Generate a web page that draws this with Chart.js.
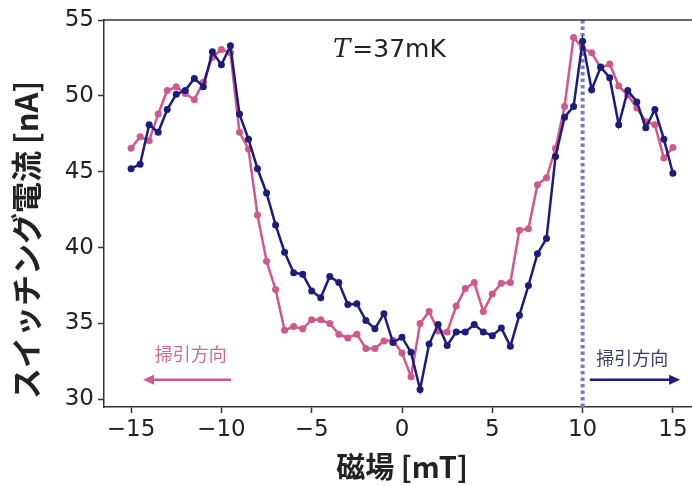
<!DOCTYPE html>
<html>
<head>
<meta charset="utf-8">
<script src="https://cdn.jsdelivr.net/npm/chart.js@4.4.1/dist/chart.umd.min.js"></script>
<style>
  html, body { margin: 0; padding: 0; background: #fff; overflow: hidden; width: 692px; height: 486px; }
  canvas { display: block; }
</style>
</head>
<body>
<canvas id="chart" width="720" height="486"></canvas>
<script>
// 磁場 [mT]
const fields = [
  -15, -14.5, -14, -13.5, -13, -12.5, -12, -11.5, -11, -10.5,
  -10, -9.5, -9, -8.5, -8, -7.5, -7, -6.5, -6, -5.5,
  -5, -4.5, -4, -3.5, -3, -2.5, -2, -1.5, -1, -0.5,
  0, 0.5, 1, 1.5, 2, 2.5, 3, 3.5, 4, 4.5,
  5, 5.5, 6, 6.5, 7, 7.5, 8, 8.5, 9, 9.5,
  10, 10.5, 11, 11.5, 12, 12.5, 13, 13.5, 14, 14.5, 15
];

// 掃引方向 → (navy)
const sweepUp = [
  45.2, 45.5, 48.1, 47.6, 49.1, 50.1, 50.35, 51.15, 50.6, 52.9,
  52.05, 53.3, 48.8, 47.15, 45.2, 43.6, 41.5, 39.7, 38.35, 38.25,
  37.15, 36.7, 38.1, 37.7, 36.25, 36.3, 35.2, 34.65, 35.65, 33.75,
  34.1, 33.1, 30.65, 33.65, 34.93, 33.55, 34.45, 34.45, 34.93, 34.45,
  34.2, 34.7, 33.5, 35.55, 37.5, 39.6, 40.6, 46.0, 48.6, 49.3,
  53.6, 50.4, 51.9, 51.2, 48.1, 50.35, 49.6, 47.9, 49.1, 47.15, 44.9
];

// 掃引方向 ← (pink)
const sweepDown = [
  46.55, 47.3, 47.05, 48.8, 50.35, 50.6, 50.15, 49.75, 50.9, 52.55,
  53.05, 52.85, 47.6, 46.5, 42.15, 39.1, 37.25, 34.55, 34.8, 34.65,
  35.25, 35.25, 35.0, 34.3, 34.05, 34.3, 33.35, 33.35, 33.85, 33.9,
  33.05, 31.5, 35.0, 35.8, 34.5, 34.45, 36.15, 37.3, 37.7, 35.8,
  36.95, 37.65, 37.7, 41.15, 41.25, 44.15, 44.6, 46.55, 49.3, 53.85,
  53.15, 52.85, 51.85, 52.1, 50.65, 50.05, 49.2, 48.3, 48.1, 45.9, 46.6
];

const xTicks = [-15, -10, -5, 0, 5, 10, 15];
const yTicks = [30, 35, 40, 45, 50, 55];
const markerField = 10;

const NAVY = '#1c1c7c';
const PINK = '#d0588a';
const AXIS = '#333';
const TEXT = '#222';

const toPoints = vals => vals.map((v, i) => ({ x: fields[i], y: v }));

const decorations = {
  id: 'decorations',
  beforeDatasetsDraw(chart) {
    const { ctx, chartArea: a, scales: { x } } = chart;
    const px = x.getPixelForValue(markerField);
    ctx.save();
    ctx.strokeStyle = '#7b7bc4';
    ctx.lineWidth = 4;
    ctx.setLineDash([3.5, 3]);
    ctx.beginPath();
    ctx.moveTo(px, a.top);
    ctx.lineTo(px, a.bottom);
    ctx.stroke();
    ctx.restore();
  },
  afterDraw(chart) {
    const { ctx, chartArea: a, scales: { x, y } } = chart;
    ctx.save();

    // top spine
    ctx.strokeStyle = AXIS;
    ctx.lineWidth = 1.5;
    ctx.beginPath();
    ctx.moveTo(a.left, a.top);
    ctx.lineTo(a.right, a.top);
    ctx.stroke();

    // sweep arrows
    function arrow(x1, x2, yv, color) {
      const p1 = x.getPixelForValue(x1), p2 = x.getPixelForValue(x2), py = y.getPixelForValue(yv);
      const dir = Math.sign(p2 - p1);
      ctx.strokeStyle = color;
      ctx.fillStyle = color;
      ctx.lineWidth = 2.5;
      ctx.beginPath();
      ctx.moveTo(p1, py);
      ctx.lineTo(p2 - dir * 8, py);
      ctx.stroke();
      ctx.beginPath();
      ctx.moveTo(p2, py);
      ctx.lineTo(p2 - dir * 11, py - 5);
      ctx.lineTo(p2 - dir * 11, py + 5);
      ctx.closePath();
      ctx.fill();
    }
    arrow(-9.47, -14.34, 31.3, PINK);
    arrow(10.4, 15.4, 31.3, NAVY);

    ctx.font = '18px "Noto Sans CJK JP"';
    ctx.textAlign = 'center';
    ctx.textBaseline = 'middle';
    ctx.fillStyle = '#cf6a95';
    ctx.fillText('掃引方向', x.getPixelForValue(-11.7), y.getPixelForValue(32.95));
    ctx.fillStyle = '#3a3a70';
    ctx.fillText('掃引方向', x.getPixelForValue(12.75), y.getPixelForValue(32.75));

    // temperature label
    ctx.textAlign = 'left';
    ctx.fillStyle = TEXT;
    let tx = 333;
    const ty = 50;
    ctx.font = 'italic 26px "DejaVu Serif"';
    ctx.fillText('T', tx, ty);
    tx += ctx.measureText('T').width + 2;
    ctx.font = '25px "DejaVu Sans"';
    ctx.fillText('=37mK', tx, ty);

    // y title
    ctx.translate(26, 240);
    ctx.rotate(-Math.PI / 2);
    ctx.textAlign = 'center';
    ctx.font = 'bold 31px "Noto Sans CJK JP"';
    ctx.fillStyle = TEXT;
    ctx.fillText('スイッチング電流 [nA]', 0, 0);
    ctx.restore();
  }
};

new Chart(document.getElementById('chart'), {
  type: 'line',
  data: {
    datasets: [
      {
        label: 'up',
        data: toPoints(sweepUp),
        borderColor: NAVY,
        backgroundColor: NAVY,
        borderWidth: 2.5,
        pointRadius: 3.5,
        pointBorderWidth: 0,
        tension: 0
      },
      {
        label: 'down',
        data: toPoints(sweepDown),
        borderColor: PINK,
        backgroundColor: PINK,
        borderWidth: 2.5,
        pointRadius: 3.5,
        pointBorderWidth: 0,
        tension: 0
      }
    ]
  },
  options: {
    responsive: false,
    animation: false,
    devicePixelRatio: 1,
    layout: { padding: { left: 0, top: 20, right: 20, bottom: 0 } },
    plugins: { legend: { display: false }, tooltip: { enabled: false } },
    scales: {
      x: {
        type: 'linear',
        min: -16.5,
        max: 16.5,
        afterBuildTicks: s => { s.ticks = xTicks.map(v => ({ value: v })); },
        afterFit: s => { s.height = 79; },
        grid: { drawOnChartArea: false, drawTicks: true, tickLength: 6, tickColor: AXIS, tickWidth: 1.5 },
        border: { display: true, color: AXIS, width: 1.5 },
        ticks: {
          color: TEXT,
          padding: 3,
          maxRotation: 0,
          font: { family: 'DejaVu Sans', size: 23 },
          callback: v => String(v).replace('-', '\u2212')
        },
        title: {
          display: true,
          text: '磁場 [mT]',
          color: TEXT,
          font: { family: 'Noto Sans CJK JP', size: 29, weight: 'bold' },
          padding: { top: 0, bottom: 2 }
        }
      },
      y: {
        min: 29.5,
        max: 55,
        afterBuildTicks: s => { s.ticks = yTicks.map(v => ({ value: v })); },
        afterFit: s => { s.width = 104; },
        grid: { drawOnChartArea: false, drawTicks: true, tickLength: 6, tickColor: AXIS, tickWidth: 1.5 },
        border: { display: true, color: AXIS, width: 1.5 },
        ticks: {
          color: TEXT,
          padding: 4,
          font: { family: 'DejaVu Sans', size: 23 }
        }
      }
    }
  },
  plugins: [decorations]
});
</script>
</body>
</html>
